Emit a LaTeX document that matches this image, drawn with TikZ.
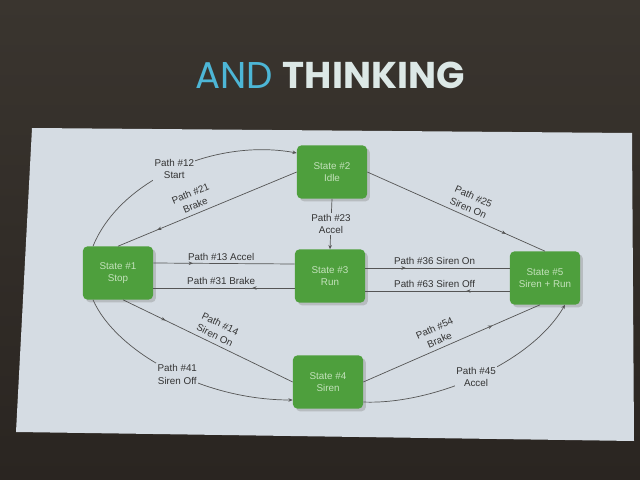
\documentclass[tikz,border=0pt]{standalone}
\usepackage{fontspec}
\setmainfont{Liberation Sans}
\newfontfamily\titlefont{Poppins}
\usetikzlibrary{calc,shadows,decorations.markings,arrows.meta}
\definecolor{slidetop}{HTML}{3A352F}
\definecolor{slidebottom}{HTML}{2A2521}
\definecolor{panel}{HTML}{D5DCE3}
\definecolor{stategreen}{HTML}{4E9F3D}
\definecolor{statetext}{HTML}{C4E2BC}
\definecolor{edgegray}{HTML}{555555}
\definecolor{titlecyan}{HTML}{4DB6D6}
\definecolor{titlewhite}{HTML}{DCE8E6}
\tikzstyle{state}=[rectangle, rounded corners=3pt, fill=stategreen, minimum width=1.75cm, minimum height=1.325cm, inner sep=0pt, align=center, text=statetext, font=\fontsize{7}{9}\selectfont, drop shadow={shadow xshift=2pt, shadow yshift=-2pt, fill=black!45, opacity=0.4}]
\tikzstyle{trans}=[draw=edgegray, line width=0.5pt]
\tikzstyle{annot}=[align=center, font=\fontsize{7}{9}\selectfont, text=black!80, inner sep=1pt]
\tikzstyle{gap}=[fill=panel]
\tikzset{tip/.style={-{Stealth[length=3pt,width=2.5pt]}},
  marrow/.style={postaction={decorate}, decoration={markings, mark=at position #1 with {\arrow{Stealth[length=3pt,width=2.5pt]}}}}}
\begin{document}
\begin{tikzpicture}[x=0.025cm, y=-0.025cm]
  \useasboundingbox (0,0) rectangle (640,480);
  \shade[top color=slidetop, bottom color=slidebottom] (0,0) rectangle (640,480);
  \fill[panel] (32,128) -- (632,133) -- (634,441) -- (16,432) -- cycle;

  \node[font=\titlefont\fontsize{26.5}{30}\selectfont] (title) at (330,75) {\textcolor{titlecyan}{AND} \textcolor{titlewhite}{\bfseries THINKING}};

  % states
  \node[state] (s1) at (118,273) {State \#1\\Stop};
  \node[state] (s2) at (332,172) {State \#2\\Idle};
  \node[state] (s3) at (330,276) {State \#3\\Run};
  \node[state] (s4) at (328,382) {State \#4\\Siren};
  \node[state] (s5) at (545,278) {State \#5\\Siren + Run};

  % transitions around Idle
  \draw[trans, tip] ($(s1.north)+(-25,0)$) .. controls (120,180) and (215,138) .. ($(s2.west)+(0,-19)$)
    node[annot, gap, pos=0.5] (l12) {Path \#12\\Start};
  \draw[trans, marrow=0.78] (s2.west) -- (s1.north)
    node[annot, sloped, above=2pt, pos=0.55] (l21) {Path \#21\\Brake};
  \draw[trans, tip] (s2.south) -- (s3.north)
    node[annot, gap, midway] (l23) {Path \#23\\Accel};
  \draw[trans, marrow=0.78] (s2.east) -- (s5.north)
    node[annot, sloped, above=2pt, pos=0.55] (l25) {Path \#25\\Siren On};

  % middle row
  \draw[trans, marrow=0.28] ($(s1.east)+(0,-10)$) -- ($(s3.west)+(0,-12)$)
    node[annot, above=1pt, pos=0.48] (l13) {Path \#13 Accel};
  \draw[trans, marrow=0.3] ($(s3.west)+(0,12)$) -- ($(s1.east)+(0,15)$)
    node[annot, above=1pt, pos=0.52] (l31) {Path \#31 Brake};
  \draw[trans, marrow=0.28] ($(s3.east)+(0,-8)$) -- ($(s5.west)+(0,-10)$)
    node[annot, above=1pt, pos=0.48] (l36) {Path \#36 Siren On};
  \draw[trans, marrow=0.3] ($(s5.west)+(0,13)$) -- ($(s3.east)+(0,15)$)
    node[annot, above=1pt, pos=0.52] (l63) {Path \#63 Siren Off};

  % transitions around Siren
  \draw[trans, marrow=0.25] ($(s1.south)+(5,0)$) -- (s4.west)
    node[annot, sloped, above=2pt, pos=0.52] (l14) {Path \#14\\Siren On};
  \draw[trans, tip] ($(s1.south)+(-25,0)$) .. controls (115,350) and (200,400) .. ($(s4.west)+(0,18)$)
    node[annot, gap, pos=0.55] (l41) {Path \#41\\Siren Off};
  \draw[trans, marrow=0.73] (s4.east) -- ($(s5.south)+(-5,0)$)
    node[annot, sloped, above=2pt, pos=0.45] (l54) {Path \#54\\Brake};
  \draw[trans, tip] ($(s4.east)+(0,20)$) .. controls (430,405) and (530,365) .. ($(s5.south)+(20,0)$)
    node[annot, gap, pos=0.5] (l45) {Path \#45\\Accel};
\end{tikzpicture}
\end{document}
